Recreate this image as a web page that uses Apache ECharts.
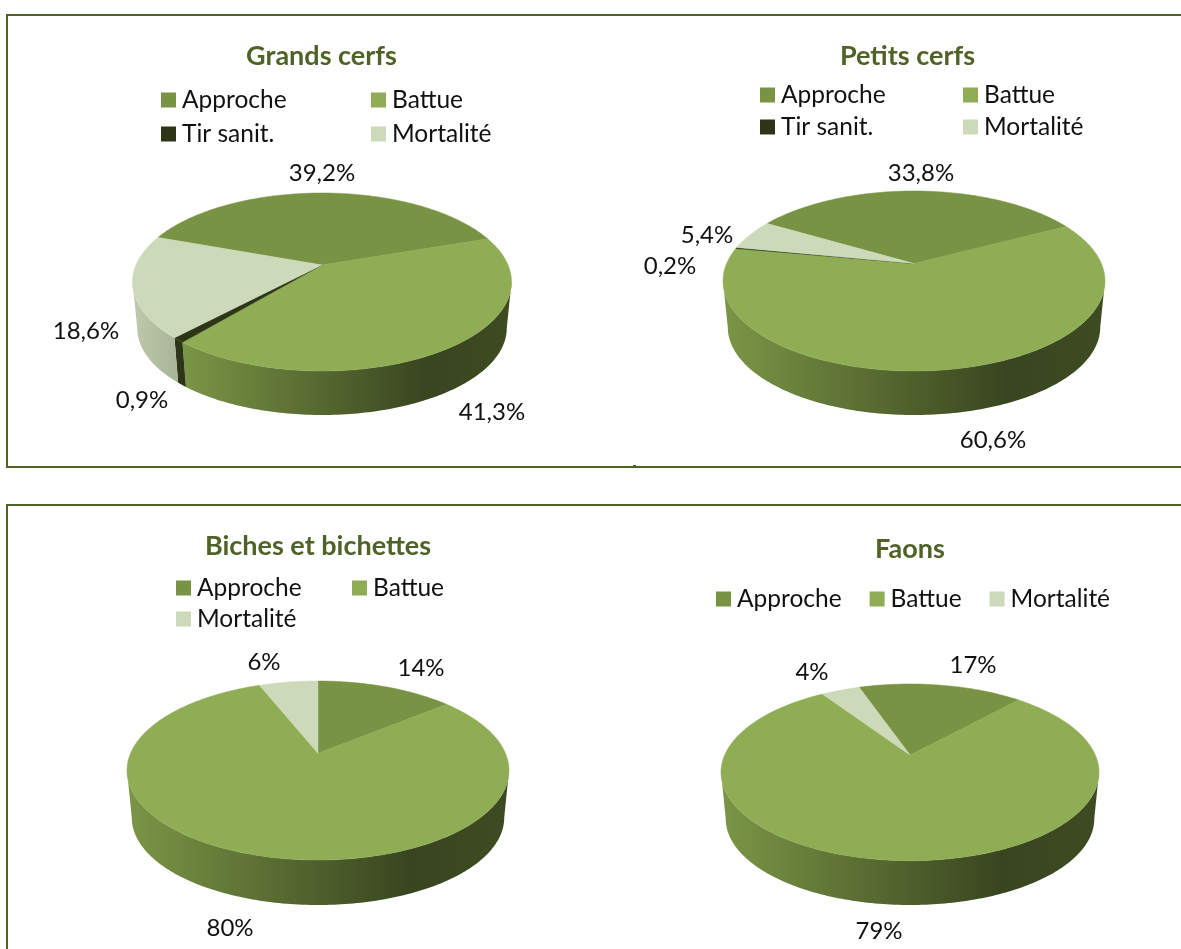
<!DOCTYPE html>
<html>
<head>
<meta charset="utf-8">
<style>
  html, body { margin: 0; padding: 0; background: #fff; }
  #chart-container { width: 1181px; height: 949px; }
</style>
<script src="https://cdn.jsdelivr.net/npm/echarts@6/dist/echarts.min.js"></script>
</head>
<body>
<div id="chart-container"></div>
<script>
const titles = ["Grands cerfs", "Petits cerfs", "Biches et bichettes", "Faons"];
const categories = ["Approche", "Battue", "Tir sanit.", "Mortalité"];

// share of each category per chart, null when the chart has no such category
const grandsCerfs = [39.2, 41.3, 0.9, 18.6];
const petitsCerfs = [33.8, 60.6, 0.2, 5.4];
const biches = [14, 80, null, 6];
const faons = [17, 79, null, 4];
const values = [grandsCerfs, petitsCerfs, biches, faons];
const decimals = [1, 1, 0, 0];

const faceColors = ["#789343", "#8fad54", "#2c3616", "#ccdab9"];
const wallStops = [
  [[0, "#789343"], [1, "#4a5c28"]],
  [[0, "#7b9646"], [0.74, "#39451f"], [1, "#3e4b22"]],
  [[0, "#2c3616"], [1, "#2c3616"]],
  [[0, "#bfcaab"], [1, "#a8b497"]],
];

// pie outlines measured on the picture: cx, half width, top, apex, front edge, base edge, first angle
const pies = [
  { cx: 322, rx: 189.5, top: 193, apex: 265, front: 371, base: 415, start: -70 },
  { cx: 914, rx: 191, top: 191, apex: 263.5, front: 371, base: 415, start: -59.5 },
  { cx: 318, rx: 191, top: 681, apex: 753.3, front: 860, base: 905, start: 0 },
  { cx: 910, rx: 189, top: 684, apex: 755, front: 860.7, base: 905, start: -19 },
];
const labelSpots = [
  [[322, 173], [492, 412], [142, 400], [86, 331]],
  [[921, 173], [993, 440], [670, 266], [707, 235]],
  [[421, 668], [230, 928], null, [264, 662]],
  [[973, 665], [879, 931], null, [812, 672]],
];
const titleSpots = [[321.5, 43], [907.5, 43], [318, 533], [910, 536]];
const legendSpots = [
  { left: 161, top: 87, step: 210, gap: 8 },
  { left: 760, top: 82, step: 203, gap: 6 },
  { left: 176, top: 575, step: 176, gap: 5 },
  { left: 716, top: 586, gap: 28 },
];

const baseShrink = 0.975;

// circle to ellipse projection, the pie centre lands on the apex and not on the ellipse centre
function makeProjection(pie) {
  const up = pie.apex - pie.top;
  const down = pie.front - pie.apex;
  const t = (down - up) / (down + up);
  const b = up * (1 + t);
  const s = pie.rx * Math.sqrt(1 - t * t);
  const midY = (pie.top + pie.front) / 2;
  const dy = pie.base - (midY + baseShrink * (pie.front - midY));
  const top = function (deg) {
    const a = (deg * Math.PI) / 180;
    const u = Math.sin(a);
    const v = -Math.cos(a);
    const w = 1 - t * v;
    return [pie.cx + (s * u) / w, pie.apex + (b * v) / w];
  };
  const low = function (deg) {
    const p = top(deg);
    return [pie.cx + baseShrink * (p[0] - pie.cx), midY + baseShrink * (p[1] - midY) + dy];
  };
  const side = (Math.acos(-t) * 180) / Math.PI;
  return { top, low, apex: [pie.cx, pie.apex], frontFrom: side, frontTo: 360 - side };
}

function arc(fn, from, to) {
  const pts = [];
  const n = Math.max(2, Math.ceil(Math.abs(to - from)));
  for (let i = 0; i <= n; i++) pts.push(fn(from + ((to - from) * i) / n));
  return pts;
}

function labelText(value, pieIndex) {
  return value.toFixed(decimals[pieIndex]).replace(".", ",") + "%";
}

function renderSlice(params, api) {
  const pieIndex = api.value(0);
  const catIndex = api.value(1);
  const value = api.value(2);
  const before = api.value(3);
  const pie = pies[pieIndex];
  const proj = makeProjection(pie);
  const from = pie.start + before * 3.6;
  const to = from + value * 3.6;
  const color = faceColors[catIndex];
  const children = [];

  const wallFrom = Math.max(from, proj.frontFrom);
  const wallTo = Math.min(to, proj.frontTo);
  if (wallTo > wallFrom) {
    const fill = new echarts.graphic.LinearGradient(
      0, 0, 1, 0,
      wallStops[catIndex].map((s) => ({ offset: s[0], color: s[1] }))
    );
    children.push({
      type: "polygon",
      shape: { points: arc(proj.top, wallFrom, wallTo).concat(arc(proj.low, wallTo, wallFrom)) },
      style: { fill: fill },
    });
  }

  children.push({
    type: "polygon",
    shape: { points: [proj.apex].concat(arc(proj.top, from, to)) },
    style: { fill: color, stroke: color, lineWidth: 0.5 },
  });

  const spot = labelSpots[pieIndex][catIndex];
  children.push({
    type: "text",
    x: spot[0],
    y: spot[1],
    style: {
      text: labelText(value, pieIndex),
      fill: "#111",
      font: '24px Lato',
      align: "center",
      verticalAlign: "middle",
    },
  });

  return { type: "group", children: children };
}

const series = [];
values.forEach((row, pieIndex) => {
  let before = 0;
  row.forEach((value, catIndex) => {
    if (value === null) return;
    series.push({
      type: "custom",
      name: categories[catIndex],
      coordinateSystem: "none",
      renderItem: renderSlice,
      itemStyle: { color: faceColors[catIndex] },
      silent: true,
      animation: false,
      data: [[pieIndex, catIndex, value, before]],
    });
    before += value;
  });
});

const legends = values.map((row, pieIndex) => {
  const spot = legendSpots[pieIndex];
  const textStyle = { color: "#111", fontFamily: "Lato", fontSize: 24.5, lineHeight: 26, padding: [0, 0, 0, 1] };
  if (spot.step) textStyle.width = spot.step - 21 - spot.gap;
  return {
    left: spot.left,
    top: spot.top,
    orient: "horizontal",
    width: spot.step ? spot.step * 2 : 460,
    padding: 0,
    itemWidth: 15,
    itemHeight: 15,
    itemGap: spot.gap,
    selectedMode: false,
    icon: "rect",
    data: categories.filter((c, i) => row[i] !== null),
    textStyle: textStyle,
  };
});

const chartTitles = titles.map((text, i) => ({
  text: text,
  left: titleSpots[i][0],
  top: titleSpots[i][1],
  textAlign: "center",
  padding: 0,
  textStyle: { color: "#4f6228", fontFamily: "Lato", fontWeight: "bold", fontSize: 27, lineHeight: 26 },
}));

const frameStyle = { fill: "none", stroke: "#4f6228", lineWidth: 2 };

const chartDom = document.getElementById("chart-container");
const myChart = echarts.init(chartDom);
myChart.setOption({
  backgroundColor: "#fff",
  animation: false,
  title: chartTitles,
  legend: legends,
  graphic: [
    { type: "rect", shape: { x: 7, y: 15, width: 1300, height: 452 }, style: frameStyle, silent: true },
    { type: "rect", shape: { x: 7, y: 505, width: 1300, height: 600 }, style: frameStyle, silent: true },
    { type: "line", shape: { x1: 633, y1: 465.5, x2: 636, y2: 465.5 }, style: { stroke: "#4f6228", lineWidth: 1 }, silent: true },
  ],
  series: series,
});
</script>
</body>
</html>
